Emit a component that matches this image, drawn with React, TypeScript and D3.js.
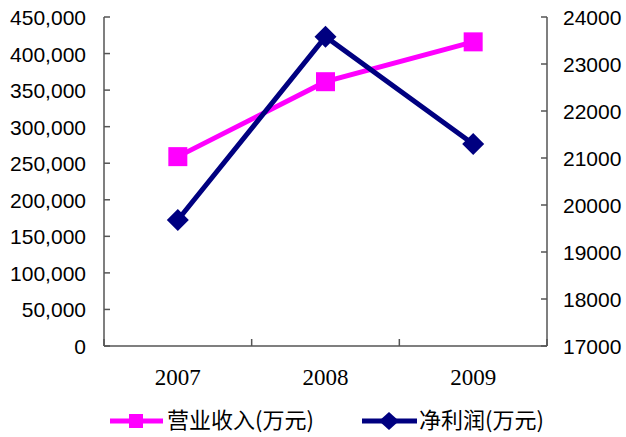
import React from "react";
import * as d3 from "d3";

const years = ["2007", "2008", "2009"];
const revenue = [259000, 361500, 416000]; // 营业收入(万元), left axis
const netProfit = [19680, 23580, 21300]; // 净利润(万元), right axis
const leftTicks = [0, 50000, 100000, 150000, 200000, 250000, 300000, 350000, 400000, 450000];
const rightTicks = [17000, 18000, 19000, 20000, 21000, 22000, 23000, 24000];
const seriesNames = ["营业收入(万元)", "净利润(万元)"];

const W = 626;
const H = 437;
const plot = { left: 104, right: 547, top: 17, bottom: 346 };

const PINK = "#FF00FF";
const NAVY = "#000080";
const AXIS = "#555555";

export default function App() {
  const x = d3.scaleBand<string>().domain(years).range([plot.left, plot.right]);
  const cx = (d: string) => (x(d) as number) + x.bandwidth() / 2;
  const yL = d3.scaleLinear().domain([0, 450000]).range([plot.bottom, plot.top]);
  const yR = d3.scaleLinear().domain([17000, 24000]).range([plot.bottom, plot.top]);
  const fmt = d3.format(",");

  const revLine = d3
    .line<number>()
    .x((_, i) => cx(years[i]))
    .y((d) => yL(d));
  const profLine = d3
    .line<number>()
    .x((_, i) => cx(years[i]))
    .y((d) => yR(d));

  const bounds = [plot.left, ...years.slice(1).map((d) => x(d) as number), plot.right];
  const sq = 19;
  const dm = 11;
  const sansFont = "'Liberation Sans', Arial, sans-serif";
  const serifFont = "'Liberation Serif', 'DejaVu Serif', serif";
  const cjkFont = "'Noto Sans CJK SC', 'Liberation Sans', sans-serif";

  return (
    <svg
      width={W}
      height={H}
      style={{ position: "fixed", left: 0, top: 0, background: "#fff" }}
    >
      <rect width={W} height={H} fill="#fff" />
      {/* axes */}
      <g stroke={AXIS} strokeWidth={1.5} fill="none">
        <line x1={plot.left} x2={plot.left} y1={plot.top} y2={plot.bottom} />
        <line x1={plot.right} x2={plot.right} y1={plot.top} y2={plot.bottom} />
        <line x1={plot.left} x2={plot.right} y1={plot.bottom} y2={plot.bottom} />
        {leftTicks.map((t) => (
          <line key={"l" + t} x1={plot.left} x2={plot.left + 6} y1={yL(t)} y2={yL(t)} />
        ))}
        {rightTicks.map((t) => (
          <line key={"r" + t} x1={plot.right - 6} x2={plot.right} y1={yR(t)} y2={yR(t)} />
        ))}
        {bounds.map((b, i) => (
          <line key={"x" + i} x1={b} x2={b} y1={plot.bottom} y2={plot.bottom - 7} />
        ))}
      </g>
      {/* tick labels */}
      <g style={{ fontFamily: sansFont }} fontSize={21} fill="#000">
        {leftTicks.map((t) => (
          <text key={"lt" + t} x={86} y={yL(t) + 8} textAnchor="end">
            {fmt(t)}
          </text>
        ))}
        {rightTicks.map((t) => (
          <text key={"rt" + t} x={563} y={yR(t) + 8} textAnchor="start">
            {t}
          </text>
        ))}
      </g>
      <g style={{ fontFamily: serifFont }} fontSize={23} fill="#000">
        {years.map((yr) => (
          <text key={yr} x={cx(yr)} y={385} textAnchor="middle">
            {yr}
          </text>
        ))}
      </g>
      {/* series */}
      <path d={revLine(revenue) || ""} fill="none" stroke={PINK} strokeWidth={5} />
      <path d={profLine(netProfit) || ""} fill="none" stroke={NAVY} strokeWidth={5} />
      {revenue.map((v, i) => (
        <rect
          key={"s" + i}
          x={cx(years[i]) - sq / 2}
          y={yL(v) - sq / 2}
          width={sq}
          height={sq}
          fill={PINK}
        />
      ))}
      {netProfit.map((v, i) => {
        const px = cx(years[i]);
        const py = yR(v);
        return (
          <path
            key={"d" + i}
            d={`M${px},${py - dm}L${px + dm},${py}L${px},${py + dm}L${px - dm},${py}Z`}
            fill={NAVY}
          />
        );
      })}
      {/* legend */}
      <g>
        <line x1={110} x2={163} y1={421} y2={421} stroke={PINK} strokeWidth={5} />
        <rect x={136 - 7} y={421 - 7} width={14} height={14} fill={PINK} />
        <text x={167} y={428} style={{ fontFamily: cjkFont }} fontSize={22} fill="#000">
          {seriesNames[0]}
        </text>
        <line x1={362} x2={417} y1={421} y2={421} stroke={NAVY} strokeWidth={5} />
        <path d={`M389,${421 - 9}L${389 + 10},421L389,${421 + 9}L${389 - 10},421Z`} fill={NAVY} />
        <text x={419} y={428} style={{ fontFamily: cjkFont }} fontSize={22} fill="#000">
          {seriesNames[1]}
        </text>
      </g>
    </svg>
  );
}
